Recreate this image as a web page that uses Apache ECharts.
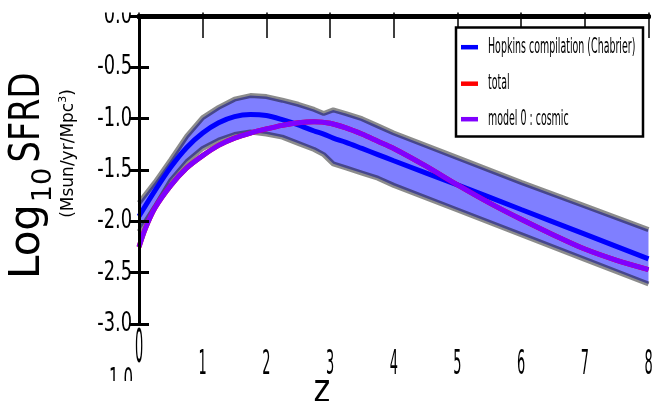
<!DOCTYPE html>
<html>
<head>
<meta charset="utf-8">
<style>
html,body{margin:0;padding:0;background:#fff;}
#main{width:652px;height:401px;}
</style>
</head>
<body>
<div id="main"></div>
<script src="https://cdn.jsdelivr.net/npm/echarts@6/dist/echarts.min.js"></script>
<script type="text/javascript">
// Hopkins compilation band (upper / lower edge) and central fit
var zBand = [0, 0.25, 0.5, 0.75, 1.0, 1.25, 1.5, 1.75, 2.0, 2.25, 2.5, 2.75, 2.9, 3.05, 3.25, 3.5, 3.75, 4, 5, 6, 7, 8];
var bandUpper = [-1.82, -1.62, -1.40, -1.17, -0.99, -0.89, -0.81, -0.775, -0.785, -0.82, -0.86, -0.91, -0.95, -0.915, -0.95, -1.00, -1.07, -1.14, -1.38, -1.62, -1.85, -2.08];
var bandLower = [-2.10, -1.86, -1.60, -1.42, -1.29, -1.21, -1.155, -1.13, -1.15, -1.18, -1.24, -1.30, -1.35, -1.44, -1.48, -1.53, -1.58, -1.65, -1.89, -2.13, -2.37, -2.61];
var hopkinsMid = [-1.95, -1.70, -1.47, -1.28, -1.14, -1.04, -0.98, -0.96, -0.97, -1.01, -1.06, -1.12, -1.15, -1.19, -1.23, -1.29, -1.35, -1.41, -1.645, -1.885, -2.125, -2.365];

// model curves
var zModel = [0, 0.1, 0.25, 0.5, 0.75, 1.0, 1.25, 1.5, 1.75, 2.0, 2.25, 2.5, 2.75, 3.0, 3.25, 3.5, 3.75, 4, 4.5, 5, 5.5, 6, 6.5, 7, 7.5, 8];
var modelCosmic = [-2.25, -2.07, -1.87, -1.65, -1.48, -1.36, -1.26, -1.19, -1.14, -1.10, -1.065, -1.04, -1.03, -1.045, -1.09, -1.15, -1.22, -1.29, -1.46, -1.645, -1.82, -1.98, -2.13, -2.27, -2.38, -2.47];
var modelTotal = [-2.25, -2.07, -1.87, -1.65, -1.48, -1.36, -1.26, -1.19, -1.14, -1.10, -1.065, -1.04, -1.03, -1.045, -1.09, -1.15, -1.22, -1.29, -1.46, -1.645, -1.82, -1.98, -2.13, -2.27, -2.38, -2.47];

var xTickValues = [0, 1, 2, 3, 4, 5, 6, 7, 8];
var xTickLabels = ['0', '1', '2', '3', '4', '5', '6', '7', '8'];
var yTickValues = [0, -0.5, -1.0, -1.5, -2.0, -2.5, -3.0];
var yTickLabels = ['0.0', '-0.5', '-1.0', '-1.5', '-2.0', '-2.5', '-3.0'];

var legendNames = ['Hopkins compilation (Chabrier)', 'total', 'model 0 : cosmic'];
var legendColors = ['#0000ff', '#ff0000', '#8000ff'];

function pairs(xs, ys){
    var out = [];
    for(var i = 0; i < xs.length; i++){
        out.push([xs[i], ys[i]]);
    }
    return out;
}

var FONT = '"DejaVu Sans", "Noto Sans", sans-serif';
var myChart = echarts.init(document.getElementById('main'));

function edgeLine(name, data){
    return {
        name: name, type: 'line', data: data, showSymbol: false, symbol: 'none',
        lineStyle: {color: 'rgba(0,0,0,0.45)', width: 5}, z: 3, silent: true
    };
}

option = {
    animation: false,
    grid: {left: 139, right: 3.5, top: 16, bottom: 77},
    xAxis: [
        {
            type: 'value', min: 0, max: 8, interval: 1, position: 'bottom',
            axisLine: {lineStyle: {color: '#000', width: 5}},
            axisTick: {inside: true, length: 22, lineStyle: {color: '#000', width: 1.5}},
            axisLabel: {show: false}, splitLine: {show: false}, z: 10
        },
        {
            type: 'value', min: 0, max: 8, interval: 1, position: 'top',
            axisLine: {lineStyle: {color: '#000', width: 5}},
            axisTick: {inside: true, length: 22, lineStyle: {color: '#000', width: 1.5}},
            axisLabel: {show: false}, splitLine: {show: false}, z: 10
        }
    ],
    yAxis: [
        {
            type: 'value', min: -3, max: 0, interval: 0.5, position: 'left',
            axisLine: {show: true, lineStyle: {color: '#000', width: 2.5}},
            axisTick: {show: true, inside: true, length: 10, lineStyle: {color: '#000', width: 3}},
            axisLabel: {show: false}, splitLine: {show: false}, z: 10
        },
        {
            type: 'value', min: -3, max: 0, interval: 0.5, position: 'right',
            axisLine: {show: true, lineStyle: {color: '#000', width: 3}},
            axisTick: {show: true, inside: true, length: 10, lineStyle: {color: '#000', width: 3}},
            axisLabel: {show: false}, splitLine: {show: false}, z: 10
        }
    ],
    series: [
        {
            name: 'band', type: 'custom', silent: true, z: 2,
            data: [[0, 0]],
            renderItem: function(params, api){
                var pts = [];
                for(var i = 0; i < zBand.length; i++){
                    pts.push(api.coord([zBand[i], bandUpper[i]]));
                }
                for(var j = zBand.length - 1; j >= 0; j--){
                    pts.push(api.coord([zBand[j], bandLower[j]]));
                }
                return {type: 'polygon', shape: {points: pts}, style: {fill: 'rgba(0,0,255,0.5)'}};
            }
        },
        edgeLine('upper', pairs(zBand, bandUpper)),
        edgeLine('lower', pairs(zBand, bandLower)),
        {
            name: legendNames[0], type: 'line', data: pairs(zBand, hopkinsMid), showSymbol: false, symbol: 'none',
            smooth: 0.3, lineStyle: {color: legendColors[0], width: 5}, z: 4
        },
        {
            name: legendNames[1], type: 'line', data: pairs(zModel, modelTotal), showSymbol: false, symbol: 'none',
            smooth: 0.3, lineStyle: {color: legendColors[1], width: 5}, z: 5
        },
        {
            name: legendNames[2], type: 'line', data: pairs(zModel, modelCosmic), showSymbol: false, symbol: 'none',
            smooth: 0.3, lineStyle: {color: legendColors[2], width: 5}, z: 6
        }
    ]
};

myChart.setOption(option);

// tick labels, axis titles and legend box (narrow, stretched text as in the original)
function txt(x, y, s, size, sx, align, extra){
    var el = {
        type: 'text', x: x, y: y, scaleX: sx, z: 100,
        style: {text: s, fontSize: size, fontFamily: FONT, fill: '#000', align: align, verticalAlign: 'middle'}
    };
    if(extra){ for(var k in extra){ el[k] = extra[k]; } }
    return el;
}

var g = [];
for(var i = 0; i < xTickValues.length; i++){
    var p = myChart.convertToPixel({gridIndex: 0}, [xTickValues[i], -3]);
    if(xTickValues[i] === 0){
        g.push(txt(p[0], p[1] + 26, xTickLabels[i], 46, 0.28, 'center'));
    }else{
        g.push(txt(p[0], p[1] + 41, xTickLabels[i], 34, 0.38, 'center'));
    }
}
for(var j = 0; j < yTickValues.length; j++){
    var q = myChart.convertToPixel({gridIndex: 0}, [0, yTickValues[j]]);
    g.push(txt(q[0] - 7, q[1], yTickLabels[j], 27, 0.66, 'right'));
}

// the picture is cropped just above the top frame
g.push({type: 'rect', z: 102, shape: {x: 0, y: 0, width: 652, height: 12.5}, style: {fill: '#fff'}});

// stray clipped label under the axis corner
g.push(txt(121, 381.5, '1.0', 30, 0.5, 'center'));
g.push({type: 'rect', z: 101, shape: {x: 100, y: 381, width: 40, height: 20}, style: {fill: '#fff'}});

// x axis title
g.push(txt(322, 392, 'z', 40, 0.8, 'center'));

// y axis title (rotated)
g.push(txt(28.5, 241.5, 'Log', 42, 1, 'center', {rotation: Math.PI / 2}));
g.push(txt(43.5, 185, '10', 27, 1, 'center', {rotation: Math.PI / 2}));
g.push(txt(28.5, 117.5, 'SFRD', 42, 0.8, 'center', {rotation: Math.PI / 2}));
g.push({
    type: 'text', x: 69, y: 153.5, rotation: Math.PI / 2, z: 100,
    style: {
        text: '{n|(Msun/yr/Mpc}{s|3}{n|)}', align: 'center', verticalAlign: 'middle', fill: '#000',
        rich: {
            n: {fontSize: 17, fontFamily: FONT, lineHeight: 22, verticalAlign: 'middle'},
            s: {fontSize: 11, fontFamily: FONT, lineHeight: 12, verticalAlign: 'top'}
        }
    }
});

// legend
g.push({type: 'rect', z: 100, shape: {x: 456, y: 27.5, width: 187, height: 109},
        style: {fill: '#fff', stroke: '#000', lineWidth: 2.5}});
var rowY = [47.2, 83.7, 119.2];
for(var r = 0; r < legendNames.length; r++){
    g.push({type: 'line', z: 101, shape: {x1: 461, y1: rowY[r], x2: 478, y2: rowY[r]},
            style: {stroke: legendColors[r], lineWidth: 4.5}});
    g.push(txt(488, rowY[r], legendNames[r], 22, 0.43, 'left', {z: 101}));
}

myChart.setOption({graphic: g});
</script>
</body>
</html>
